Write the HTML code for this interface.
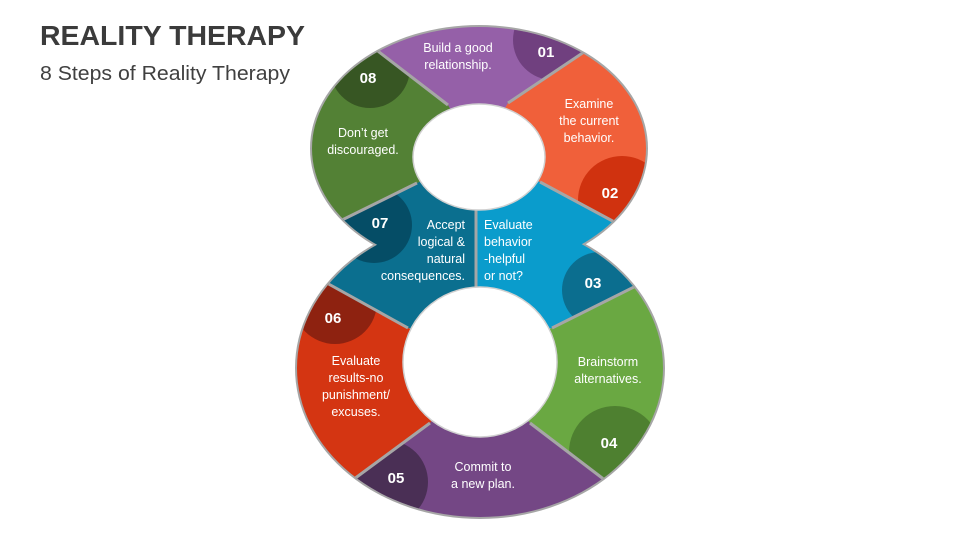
<!DOCTYPE html>
<html><head><meta charset="utf-8"><style>
html,body{margin:0;padding:0;background:#fff;width:960px;height:540px;overflow:hidden}
svg{display:block}
</style></head><body>
<svg width="960" height="540" viewBox="0 0 960 540" xmlns="http://www.w3.org/2000/svg" font-family="'Liberation Sans', sans-serif">
<defs>
<clipPath id="eight">
<path clip-rule="nonzero" d="M312,148.5 a167,121.5 0 1,0 334,0 a167,121.5 0 1,0 -334,0 Z M297,368 a183,149 0 1,0 366,0 a183,149 0 1,0 -366,0 Z"/>
</clipPath>
<clipPath id="c1"><polygon points="478,157 448,105 330,12 650,10 508,103"/></clipPath>
<clipPath id="c2"><polygon points="478,157 508,103 650,10 720,10 720,300 687,260 540,182"/></clipPath>
<clipPath id="c3"><polygon points="476,157 540,182 687,260 552,328 476,340"/></clipPath>
<clipPath id="c4"><polygon points="480,362 552,328 687,260 720,300 720,540 605,480 530,423"/></clipPath>
<clipPath id="c5"><polygon points="480,362 530,423 605,480 660,540 290,540 355,478 430,423"/></clipPath>
<clipPath id="c6"><polygon points="480,362 430,423 355,478 280,540 260,540 260,253 272,253 330,285 408,328"/></clipPath>
<clipPath id="c7"><polygon points="476,157 476,340 408,328 272,253 343,219 417,183"/></clipPath>
<clipPath id="c8"><polygon points="478,157 448,105 330,12 260,12 260,253 272,253 343,219 417,183"/></clipPath>
</defs>

<text x="40" y="45" font-size="28" font-weight="bold" fill="#3b3b3b" textLength="265" lengthAdjust="spacingAndGlyphs">REALITY THERAPY</text>
<text x="40" y="80" font-size="20" fill="#404040" textLength="250" lengthAdjust="spacingAndGlyphs">8 Steps of Reality Therapy</text>

<path fill="#a6a6a6" d="M310,148.5 a169,123.5 0 1,0 338,0 a169,123.5 0 1,0 -338,0 Z M295,368 a185,151 0 1,0 370,0 a185,151 0 1,0 -370,0 Z"/>

<g clip-path="url(#eight)">
 <g clip-path="url(#c1)"><rect x="250" y="0" width="480" height="540" fill="#9560a8"/><circle cx="553" cy="40" r="40" fill="#70407f"/></g>
 <g clip-path="url(#c2)"><rect x="250" y="0" width="480" height="540" fill="#f0603a"/><circle cx="622" cy="200" r="44" fill="#d0320f"/></g>
 <g clip-path="url(#c3)"><rect x="250" y="0" width="480" height="540" fill="#0a9ccc"/><circle cx="600" cy="290" r="38" fill="#0b6e8f"/></g>
 <g clip-path="url(#c4)"><rect x="250" y="0" width="480" height="540" fill="#6aa842"/><circle cx="615" cy="452" r="46" fill="#4e8030"/></g>
 <g clip-path="url(#c5)"><rect x="250" y="0" width="480" height="540" fill="#744785"/><circle cx="386" cy="482" r="42" fill="#4a2f55"/></g>
 <g clip-path="url(#c6)"><rect x="250" y="0" width="480" height="540" fill="#d43512"/><circle cx="335" cy="302" r="42" fill="#8e2210"/></g>
 <g clip-path="url(#c7)"><rect x="250" y="0" width="480" height="540" fill="#0b6f8f"/><circle cx="374" cy="225" r="38" fill="#054d66"/></g>
 <g clip-path="url(#c8)"><rect x="250" y="0" width="480" height="540" fill="#538135"/><circle cx="370" cy="68" r="40" fill="#375623"/></g>
 <g stroke="#a6a6a6" stroke-width="3">
  <line x1="448" y1="105" x2="370" y2="45"/>
  <line x1="508" y1="103" x2="590" y2="48"/>
  <line x1="540" y1="182" x2="620" y2="225"/>
  <line x1="476" y1="195" x2="476" y2="300"/>
  <line x1="417" y1="183" x2="338" y2="222"/>
  <line x1="552" y1="328" x2="636" y2="286"/>
  <line x1="530" y1="423" x2="610" y2="484"/>
  <line x1="430" y1="423" x2="350" y2="482"/>
  <line x1="408" y1="328" x2="325" y2="282"/>
 </g>
</g>
<ellipse cx="479" cy="157" rx="66" ry="53" fill="#fff" stroke="#d0d0d0" stroke-width="1.5"/>
<ellipse cx="480" cy="362" rx="77" ry="75" fill="#fff" stroke="#d0d0d0" stroke-width="1.5"/>

<g fill="#fff" font-size="12.5" text-anchor="middle">
 <text x="458" y="52">Build a good</text><text x="458" y="69">relationship.</text>
 <text x="589" y="108">Examine</text><text x="589" y="125">the current</text><text x="589" y="142">behavior.</text>
 <text x="608" y="366">Brainstorm</text><text x="608" y="383">alternatives.</text>
 <text x="483" y="471">Commit to</text><text x="483" y="488">a new plan.</text>
 <text x="356" y="365">Evaluate</text><text x="356" y="382">results-no</text><text x="356" y="399">punishment/</text><text x="356" y="416">excuses.</text>
 <text x="363" y="137">Don’t get</text><text x="363" y="154">discouraged.</text>
 <text x="465" y="229" text-anchor="end">Accept</text><text x="465" y="246" text-anchor="end">logical &amp;</text><text x="465" y="263" text-anchor="end">natural</text><text x="465" y="280" text-anchor="end">consequences.</text>
 <text x="484" y="229" text-anchor="start">Evaluate</text><text x="484" y="246" text-anchor="start">behavior</text><text x="484" y="263" text-anchor="start">-helpful</text><text x="484" y="280" text-anchor="start">or not?</text>
</g>
<g fill="#fff" font-size="15" font-weight="bold" text-anchor="middle">
 <text x="546" y="57">01</text>
 <text x="610" y="198">02</text>
 <text x="593" y="288">03</text>
 <text x="609" y="448">04</text>
 <text x="396" y="483">05</text>
 <text x="333" y="323">06</text>
 <text x="380" y="228">07</text>
 <text x="368" y="83">08</text>
</g>
</svg>
</body></html>
